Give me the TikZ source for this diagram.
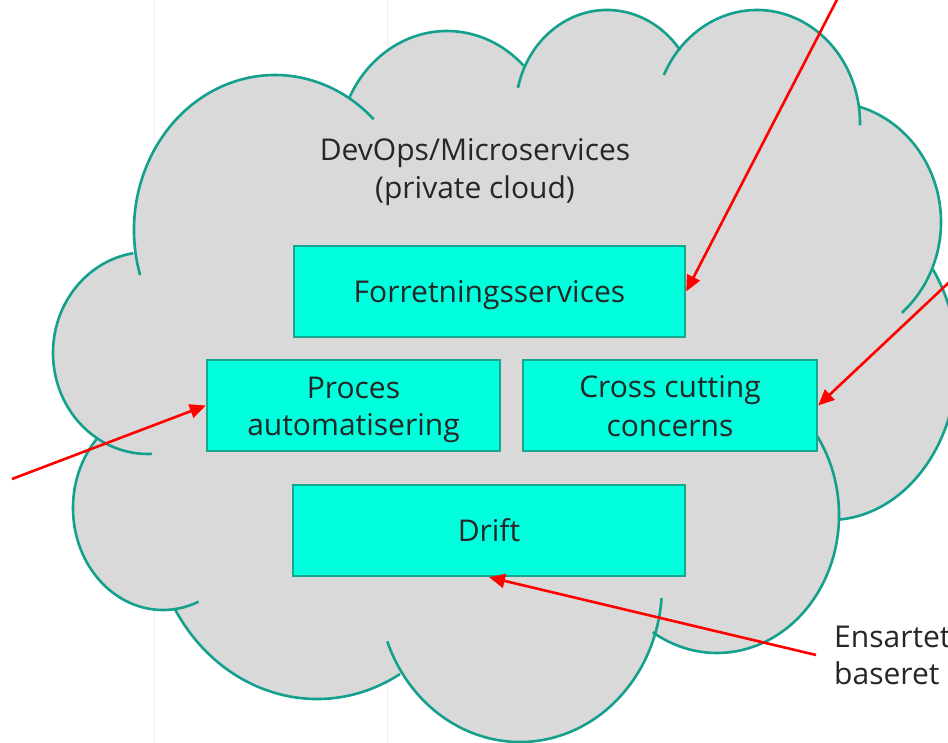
\documentclass[tikz,border=0pt]{standalone}
\usepackage{fontspec}
\setmainfont{Open Sans}
\usetikzlibrary{arrows.meta}
\definecolor{cloudfill}{HTML}{D9D9D9}
\definecolor{cloudline}{HTML}{13A18D}
\definecolor{boxfill}{HTML}{00FFDD}
\definecolor{boxline}{HTML}{1AA590}
\definecolor{txt}{HTML}{262626}
\definecolor{gridline}{HTML}{EEEEEE}
\newcommand{\ls}{\rule[-7pt]{0pt}{37pt}}
\newcommand{\bumpfill}[4]{\fill[cloudfill] (#1,#2) ellipse [x radius=#3, y radius=#4];}
\newcommand{\bumpline}[6]{\draw[cloudedge] (#1,#2) ++(#5:#3 and #4) arc[start angle=#5, end angle=#6, x radius=#3, y radius=#4];}
\begin{document}
\begin{tikzpicture}[x=1pt,y=1pt,
  cloudedge/.style={draw=cloudline, line width=2.6pt},
  boxnode/.style={draw=boxline, fill=boxfill, line width=2.4pt, minimum height=91pt, inner sep=0pt, align=center, font=\fontsize{30pt}{37pt}\selectfont, text=txt},
  redarrow/.style={draw=red, line width=2.6pt, -{Triangle[length=16pt,width=14pt]}},
  lbl/.style={inner sep=0pt, text=txt, font=\fontsize{30pt}{37pt}\selectfont}]
\useasboundingbox (0,0) rectangle (948,743);
\clip (0,0) rectangle (948,743);
\fill[white] (0,0) rectangle (948,743);
\draw[gridline, line width=1pt] (154,0) -- (154,743) (387,0) -- (387,743);
% cloud fill
\fill[cloudfill] (135,490) -- (348,646) -- (524,678) -- (680,693) -- (859,640) -- (932,475) -- (838,223) -- (653,111) -- (400,69) -- (175,134) -- (98,304) -- cycle;
\bumpfill{275}{513}{141}{155}
\bumpfill{447}{592}{109}{120}
\bumpfill{607}{632.5}{91.4}{100.5}
\bumpfill{757}{619.5}{103}{113.5}
\bumpfill{828}{521}{113}{120}
\bumpfill{830}{381}{127}{158}
\bumpfill{717}{228}{122}{138}
\bumpfill{520}{157}{142}{156}
\bumpfill{317}{230}{166}{186}
\bumpfill{163}{235}{90}{102}
\bumpfill{148}{390}{95}{101}
% cloud outline
\bumpline{275}{513}{141}{155}{196.9}{45.6}
\bumpline{447}{592}{109}{120}{153.6}{45.4}
\bumpline{607}{632.5}{91.4}{100.5}{167}{37}
\bumpline{757}{619.5}{103}{113.5}{154.7}{-1}
\bumpline{828}{521}{113}{120}{74}{-49.2}
\bumpline{830}{381}{127}{158}{35.9}{-86.4}
\bumpline{717}{228}{122}{138}{60}{-121.8}
\bumpline{520}{157}{142}{156}{200.8}{355.5}
\bumpline{317}{230}{166}{186}{211.1}{300}
\bumpline{163}{235}{90}{102}{136.5}{293.3}
\bumpline{148}{390}{95}{101}{99}{272.5}
% title
\node[lbl, align=center] (title) at (475,575) {\ls DevOps/Microservices\\\ls (private cloud)};
% boxes
\node[boxnode, minimum width=391pt] (fs) at (489.5,451.5) {\ls Forretningsservices};
\node[boxnode, minimum width=293pt] (pa) at (353.5,337.5) {\ls Proces\\\ls automatisering};
\node[boxnode, minimum width=294pt] (cc) at (670,337.5) {\ls Cross cutting\\\ls concerns};
\node[boxnode, minimum width=392pt] (dr) at (489,212.5) {\ls Drift};
% side label
\node[lbl, align=left, anchor=north west] (ens) at (834,126) {\ls Ensartet\\\ls baseret};
% arrows
\coordinate (a1) at (842,753);
\coordinate (a2) at (960,471);
\coordinate (a3) at (12,264);
\coordinate (a4) at (816,88);
\draw[redarrow] (a1) -- (fs.east);
\draw[redarrow] (a2) -- (cc.east);
\draw[redarrow] (a3) -- (pa.west);
\draw[redarrow] (a4) -- (dr.south);
\end{tikzpicture}
\end{document}
